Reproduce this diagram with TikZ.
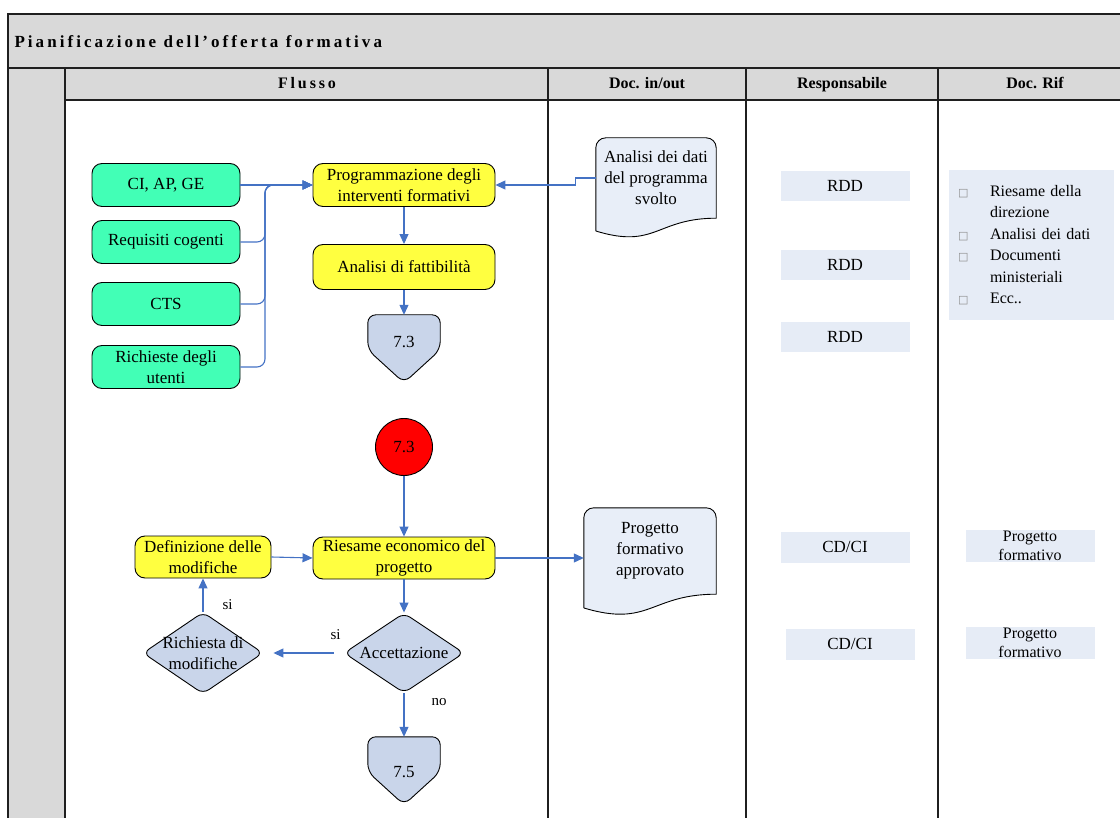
\documentclass[tikz,border=0pt]{standalone}
\usepackage{fontspec}
\setmainfont{Liberation Serif}
\newfontfamily\spacedfont[LetterSpace=18]{Liberation Serif}
\newfontfamily\symfont{DejaVu Sans}
\usepackage{tikz}
\usetikzlibrary{positioning,arrows.meta,shapes.geometric,backgrounds}
\definecolor{headgray}{RGB}{217,217,217}
\definecolor{boxgreen}{RGB}{66,255,182}
\definecolor{boxyellow}{RGB}{255,255,64}
\definecolor{bluegray}{RGB}{201,213,234}
\definecolor{docfill}{RGB}{232,238,248}
\definecolor{lightblue}{RGB}{230,236,246}
\definecolor{flowblue}{RGB}{68,114,196}

% Dokument-Symbol mit Wellenrand unten
\newcommand{\docsheet}[3]{%
  \filldraw[doc sheet] ([shift={(0,0.16*#3)}]#1.south west)
    .. controls ([shift={(0.5*#2,0.39*#3)}]#1.south west) and ([shift={(-0.5*#2,0)}]#1.south east) .. (#1.south east)
    [rounded corners=10pt] -- (#1.north east) -- (#1.north west) -- ([shift={(0,0.16*#3)}]#1.south west);}
% Verbinder auf andere Seite
\newcommand{\offpage}[1]{%
  \filldraw[page mark] (#1.north) -- (#1.north east) -- ([shift={(0,35)}]#1.north east)
    -- ([shift={(0,68)}]#1.north) -- ([shift={(0,35)}]#1.north west) -- (#1.north west) -- cycle;}
\newcommand{\listbox}{\makebox[32pt][l]{\symfont\color{black!45}\fontsize{11}{11}\selectfont □}}

\begin{document}
\begin{tikzpicture}[x=1pt,y=-1pt,font=\fontsize{17}{21}\selectfont]
\useasboundingbox (0,0) rectangle (1120,818);

% 1. Stile definieren
\tikzset{
  frame line/.style={draw=black!88, line width=1.8pt},
  head text/.style={font=\bfseries\fontsize{16}{20}\selectfont, anchor=base},
  title text/.style={font=\spacedfont\bfseries\fontsize{17}{20}\selectfont},
  flow box/.style={draw=black, line width=0.9pt, rounded corners=10pt, align=center, inner sep=2pt},
  green box/.style={flow box, fill=boxgreen, minimum width=148pt, minimum height=43pt},
  yellow box/.style={flow box, fill=boxyellow, minimum width=182pt, minimum height=43pt},
  choice/.style={diamond, draw=black, line width=0.9pt, rounded corners=7pt, fill=bluegray,
    minimum width=120pt, minimum height=80pt, inner xsep=-10pt, inner ysep=-6pt, align=center},
  off page/.style={minimum width=72pt, inner sep=0pt},
  page mark/.style={draw=black, line width=0.9pt, fill=bluegray, rounded corners=8pt},
  doc sheet/.style={draw=black, line width=0.9pt, fill=docfill},
  doc text/.style={inner sep=0pt, align=center},
  resp box/.style={fill=lightblue, minimum width=129pt, minimum height=30pt, inner sep=0pt, align=center},
  flow/.style={draw=flowblue, line width=1.1pt, -{Triangle[length=10pt,width=9pt]}},
  small label/.style={font=\fontsize{15}{18}\selectfont, inner sep=1pt}
}

% 2. Tabelle
\fill[headgray] (8,14) rectangle (1120,68);
\fill[headgray] (8,68) rectangle (65,818);
\fill[headgray] (65,68) rectangle (1120,100);
\draw[frame line] (1120,14) -- (8,14) -- (8,818);
\draw[frame line, line width=2.4pt] (8,68) -- (1120,68);
\draw[frame line] (65,100) -- (1120,100);
\foreach \xs in {65,548,746,938}
  \draw[frame line] (\xs,68) -- (\xs,818);

\node[title text, anchor=west] (titel) at (11,42) {Pianificazione dell’offerta formativa};
\node[head text, font=\spacedfont\bfseries\fontsize{16}{18}\selectfont] (hflusso) at (307,89) {Flusso};
\node[head text] (hdoc) at (647,89) {Doc. in/out};
\node[head text] (hresp) at (842,89) {Responsabile};
\node[head text] (hrif) at (1035,89) {Doc. Rif};

% 3. Knoten
\node[green box] (ci) at (166,185) {CI, AP, GE};
\node[green box] (req) at (166,242) {Requisiti cogenti};
\node[green box] (cts) at (166,304) {CTS};
\node[green box] (ute) at (166,367) {Richieste degli\\utenti};
\node[yellow box] (prog) at (404,185) {Programmazione degli\\interventi formativi};
\node[yellow box, minimum height=45pt] (fatt) at (404,267) {Analisi di fattibilità};
\node[off page, minimum height=54pt] (off1) at (404,342) {7.3};
\node[doc text, minimum width=120pt, minimum height=80pt] (d1) at (656,178) {Analisi dei dati\\del programma\\svolto};

\node[resp box] (rdd1) at (845,186) {RDD};
\node[resp box] (rdd2) at (845,265) {RDD};
\node[resp box] (rdd3) at (845,337) {RDD};
\node[fill=lightblue, minimum width=165pt, minimum height=150pt, inner xsep=9pt, text width=147pt,
  align=left, font=\fontsize{16}{21.5}\selectfont] (rif) at (1031.5,245)
  {\listbox Riesame della\\\hspace*{32pt}direzione\\\listbox Analisi dei dati\\\listbox Documenti\\\hspace*{32pt}ministeriali\\\listbox Ecc..};

\node[circle, draw=black, line width=0.9pt, fill=red, minimum size=57pt, inner sep=0pt] (conn) at (404,447) {7.3};
\node[yellow box, minimum height=42pt] (ries) at (404,558) {Riesame economico del\\progetto};
\node[yellow box, minimum width=136pt, minimum height=42pt] (defm) at (203,557) {Definizione delle\\modifiche};
\node[choice] (acc) at (404,653) {Accettazione};
\node[choice] (rmod) at (203,653) {Richiesta di\\modifiche};
\node[off page, minimum height=70pt] (off2) at (404,772) {7.5};
\node[doc text, minimum width=132pt, minimum height=86pt] (d2) at (650,551) {Progetto\\formativo\\approvato};

\node[resp box, minimum height=31pt] (cd1) at (845,547) {CD/CI};
\node[resp box, minimum height=31pt] (cd2) at (850,644) {CD/CI};
\node[resp box, minimum height=32pt, inner ysep=-5pt, font=\fontsize{16}{19}\selectfont] (pf1) at (1030,546) {Progetto\\formativo};
\node[resp box, minimum height=32pt, inner ysep=-5pt, font=\fontsize{16}{19}\selectfont] (pf2) at (1030,643) {Progetto\\formativo};

\begin{scope}[on background layer]
  \docsheet{d1}{120}{80}
  \docsheet{d2}{132}{86}
  \offpage{off1}
  \offpage{off2}
\end{scope}

% 4. Verbindungen
\coordinate (sammel) at (265,185);
\draw[flow] (ci.east) -- (prog.west);
\foreach \src in {req,cts,ute}
  \draw[flow, rounded corners=8pt] (\src.east) -| (sammel) -- (prog.west);
\draw[flow] (d1.west) -- ++(-20,0) |- (prog.east);
\draw[flow] (prog.south) -- (fatt.north);
\draw[flow] (fatt.south) -- (off1.north);
\draw[flow] (conn.south) -- (ries.north);
\draw[flow] (ries.south) -- (acc.north);
\draw[flow] (ries.east) -- (ries.east -| d2.west);
\draw[flow] (defm.east) -- (ries.west);
\draw[flow, shorten <=10pt, shorten >=10pt] (acc.west) -- node[pos=0.1, above=12pt, small label] {si} (rmod.east);
\draw[flow] (rmod.north) -- node[pos=0.2, right=18pt, small label] {si} (defm.south);
\draw[flow] (acc.south) -- node[pos=0.2, right=26pt, small label] {no} (off2.north);

\end{tikzpicture}
\end{document}
